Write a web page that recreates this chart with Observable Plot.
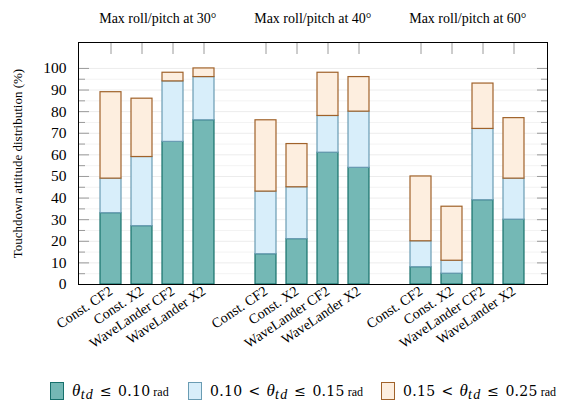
<!DOCTYPE html>
<html><head><meta charset="utf-8">
<script src="https://cdn.jsdelivr.net/npm/d3@7"></script>
<script src="https://cdn.jsdelivr.net/npm/@observablehq/plot@0.6"></script>
<style>
body{margin:0;background:#fff;}
#chart{position:relative;width:568px;height:404px;overflow:hidden;background:#fff}
.legend{position:absolute;top:380px;left:0;width:568px;height:24px;font-family:"DejaVu Serif","Liberation Serif",serif;color:#000}
.item{position:absolute;top:0;display:flex;align-items:center;height:22px;white-space:nowrap}
.sw{width:14px;height:18px;box-sizing:border-box;border:1.4px solid;margin-right:8px}
.m{font-size:14px;letter-spacing:0.3px}
.th{font-family:"Liberation Serif",serif;font-style:italic;font-size:17px}
.sub{font-family:"Liberation Serif",serif;font-style:italic;font-size:14px;position:relative;top:3px;letter-spacing:1.2px}
.rad{font-family:"Liberation Serif",serif;font-size:12px;margin-left:3px;letter-spacing:0}
.op{margin:0 6px}
</style>
</head><body>
<div id="chart"></div>
<script>
const groups = ["30", "40", "60"];
const controllers = ["Const. CF2", "Const. X2", "WaveLander CF2", "WaveLander X2"];
const bins = ["low", "mid", "high"];
// share (%) of touchdowns per attitude bin, ordered group by group
const low  = [33, 27, 66, 76,  14, 21, 61, 54,  8, 5, 39, 30];
const mid  = [16, 32, 28, 20,  29, 24, 17, 26, 12, 6, 33, 19];
const high = [40, 27,  4,  4,  33, 20, 20, 16, 30, 25, 21, 28];
const fills = ["#74b8b5", "#d8eefa", "#fdeedf"];
const strokes = ["#17706c", "#6a9cb3", "#a0622a"];
const majorTicks = [0, 10, 20, 30, 40, 50, 60, 70, 80, 90, 100];
const minorTicks = [5, 15, 25, 35, 45, 55, 65, 75, 85, 95];

const series = [low, mid, high];
const rows = [];
groups.forEach((g, gi) => controllers.forEach((c, ci) => {
  const i = gi * 4 + ci;
  series.forEach((arr, bi) => rows.push({key: g + "|" + c, bin: bi, value: arr[i]}));
}));
const domain = [];
groups.forEach((g, gi) => { if (gi > 0) domain.push("gap" + gi); controllers.forEach(c => domain.push(g + "|" + c)); });
const keys = domain.filter(k => !k.startsWith("gap"));

const tickStroke = "#9a9a9a";
const chart = Plot.plot({
  width: 568, height: 380,
  marginTop: 42, marginBottom: 96, marginLeft: 78, marginRight: 21,
  style: {fontFamily: "Liberation Serif, serif", fontSize: "12px", background: "white", color: "black", overflow: "visible"},
  x: {domain, paddingInner: 0.313, paddingOuter: 0.577, axis: null},
  y: {domain: [0, 112], axis: null},
  marks: [
    Plot.ruleY(minorTicks, {stroke: "#f3f3f3"}),
    Plot.ruleY(majorTicks.filter(d => d > 0), {stroke: "#ececec"}),
    Plot.barY(rows, {x: "key", y: "value", fill: d => fills[d.bin], stroke: d => strokes[d.bin], strokeWidth: 1.2}),
    Plot.axisY(majorTicks, {anchor: "left", tickSize: 0, tickPadding: 12, fontSize: 15.5, label: null}),
    Plot.axisY(majorTicks, {anchor: "left", tickSize: -11, tickFormat: () => "", stroke: tickStroke, label: null}),
    Plot.axisY(minorTicks, {anchor: "left", tickSize: -7, tickFormat: () => "", stroke: tickStroke, label: null}),
    Plot.axisY(majorTicks, {anchor: "right", tickSize: -11, tickFormat: () => "", stroke: tickStroke, label: null}),
    Plot.axisY(minorTicks, {anchor: "right", tickSize: -7, tickFormat: () => "", stroke: tickStroke, label: null}),
    Plot.axisX(keys, {anchor: "top", tickSize: -11, tickFormat: () => "", stroke: tickStroke, label: null}),
    Plot.axisX(keys, {anchor: "bottom", tickSize: 0, tickPadding: 5, tickRotate: -34, tickFormat: k => k.split("|")[1], fontSize: 14, label: null}),
    Plot.text(groups, {x: g => g + "|" + controllers[1], dx: 15.8, frameAnchor: "top", dy: -29, text: g => `Max roll/pitch at ${g}°`, fontSize: 14}),
    Plot.text(["Touchdown attitude distribution (%)"], {frameAnchor: "left", textAnchor: "middle", dx: -61, rotate: -90, fontSize: 13}),
    Plot.frame({stroke: "black", strokeWidth: 1})
  ]
});
const root = document.getElementById("chart");
root.appendChild(chart);

const legend = document.createElement("div");
legend.className = "legend";
const theta = '<span class="th">θ</span><span class="sub">td</span>';
const labels = [
  `${theta}<span class="op">≤</span>0.10<span class="rad">rad</span>`,
  `0.10<span class="op">&lt;</span>${theta}<span class="op">≤</span>0.15<span class="rad">rad</span>`,
  `0.15<span class="op">&lt;</span>${theta}<span class="op">≤</span>0.25<span class="rad">rad</span>`
];
const lefts = [50, 188, 381];
labels.forEach((html, i) => {
  const it = document.createElement("div");
  it.className = "item";
  it.style.left = lefts[i] + "px";
  it.innerHTML = `<div class="sw" style="background:${fills[i]};border-color:${strokes[i]}"></div><span class="m">${html}</span>`;
  legend.appendChild(it);
});
root.appendChild(legend);
</script>
</body></html>
